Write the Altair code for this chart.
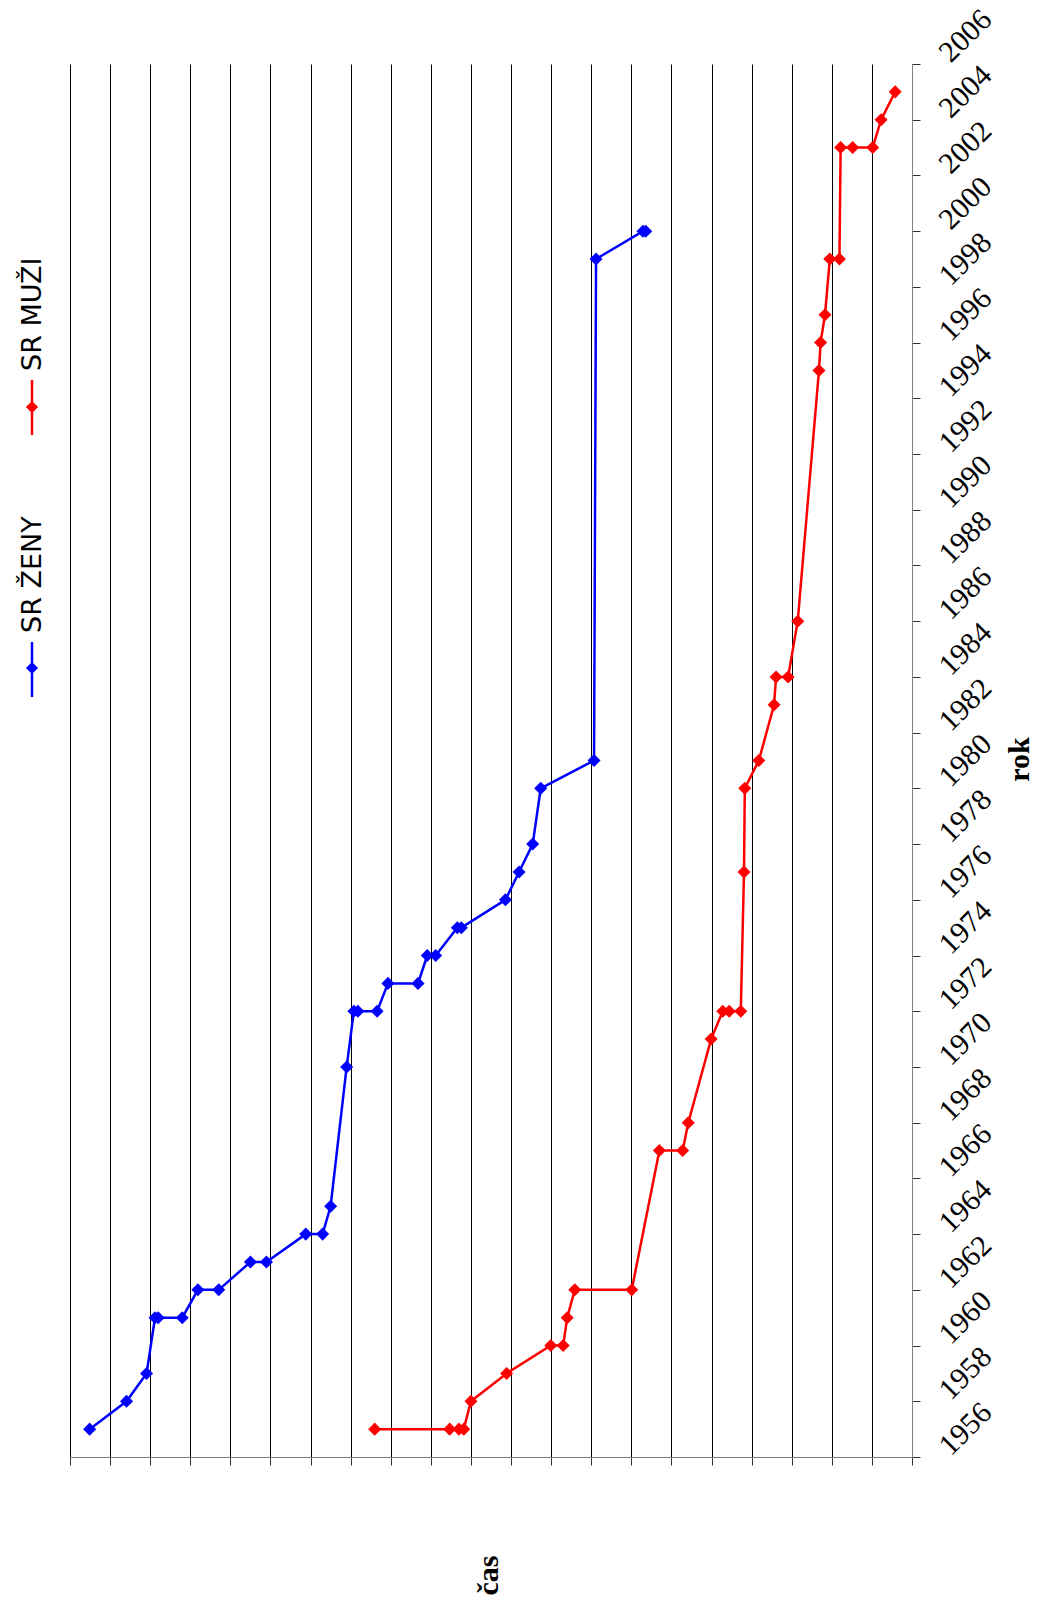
import altair as alt
import pandas as pd

# Record times over the years (value axis in grid units, no tick labels)
zeny_rok = [1957, 1958, 1959, 1961, 1961, 1961, 1962, 1962, 1963, 1963, 1964, 1964,
            1965, 1970, 1972, 1972, 1972, 1973, 1973, 1974, 1974, 1975, 1975, 1976,
            1977, 1978, 1980, 1981, 1999, 2000, 2000]
zeny_cas = [20.51, 19.59, 19.09, 18.88, 18.80, 18.20, 17.81, 17.29, 16.50, 16.10, 15.12, 14.70,
            14.50, 14.10, 13.92, 13.82, 13.34, 13.07, 12.32, 12.09, 11.88, 11.34, 11.24, 10.14,
            9.80, 9.46, 9.26, 7.93, 7.88, 6.71, 6.64]

muzi_rok = [1957, 1957, 1957, 1957, 1958, 1959, 1960, 1960, 1961, 1962, 1962, 1967,
            1967, 1968, 1971, 1972, 1972, 1972, 1977, 1980, 1981, 1983, 1984, 1984,
            1986, 1995, 1996, 1997, 1999, 1999, 2003, 2003, 2003, 2004, 2005]
muzi_cas = [13.40, 11.53, 11.30, 11.18, 11.00, 10.11, 9.01, 8.70, 8.60, 8.41, 6.99, 6.30,
            5.72, 5.58, 5.01, 4.72, 4.56, 4.27, 4.19, 4.17, 3.82, 3.44, 3.39, 3.09,
            2.85, 2.32, 2.28, 2.17, 2.05, 1.81, 1.78, 1.48, 0.98, 0.77, 0.42]

serie_names = ["SR ŽENY", "SR MUŽI"]
serie_colors = ["#0000FF", "#FF0000"]
rok_ticks = list(range(1956, 2007, 2))
cas_grid = list(range(0, 22))

frames = []
for name, roky, casy in [(serie_names[0], zeny_rok, zeny_cas), (serie_names[1], muzi_rok, muzi_cas)]:
    frames.append(pd.DataFrame({"serie": name, "rok": roky, "cas": casy, "i": range(len(roky))}))
df = pd.concat(frames, ignore_index=True)

W, H = 842, 1393
SERIF = "Liberation Serif"

x_enc = alt.X(
    "cas:Q",
    scale=alt.Scale(domain=[0, 21], reverse=True, nice=False, zero=False),
    axis=alt.Axis(
        values=cas_grid, labels=False, grid=True, gridColor="#000000", gridWidth=1,
        ticks=True, tickSize=8, tickColor="#333333", domainColor="#808080",
        title="čas", titleFont=SERIF, titleFontWeight="bold", titleFontSize=30,
        titleAngle=270, titleAlign="center", titleBaseline="middle",
        titleX=418, titleY=118, titleColor="#000000",
    ),
)
y_enc = alt.Y(
    "rok:Q",
    scale=alt.Scale(domain=[1956, 2006], nice=False, zero=False),
    axis=alt.Axis(
        orient="right", values=rok_ticks, format="d", grid=False,
        ticks=True, tickSize=8, tickColor="#333333", domainColor="#808080",
        labelFont=SERIF, labelFontSize=30, labelColor="#000000",
        labelAngle=315, labelAlign="left", labelBaseline="middle",
        labelPadding=24, labelOffset=-7, labelOverlap=False, labelBound=False,
        title="rok", titleFont=SERIF, titleFontWeight="bold", titleFontSize=30,
        titleAngle=270, titleAlign="center", titleBaseline="middle",
        titleX=107, titleY=695, titleColor="#000000",
    ),
)
color_enc = alt.Color("serie:N", scale=alt.Scale(domain=serie_names, range=serie_colors), legend=None)

base = alt.Chart(df)
lines = base.mark_line(strokeWidth=2.5).encode(x=x_enc, y=y_enc, color=color_enc, order="i:Q")
points = base.mark_point(shape="diamond", filled=True, size=170, opacity=1).encode(
    x=x_enc, y=y_enc, color=color_enc
)

# Legend drawn by hand as a rotated column on the left
legend_layers = []
legend_pos = [
    # (text anchor y, line top, line bottom, marker y)
    (569, 578, 633, 604),
    (307, 316, 371, 343),
]
for name, col, (ty, l1, l2, my) in zip(serie_names, serie_colors, legend_pos):
    one = alt.Chart(pd.DataFrame({"serie": [name]}))
    legend_layers.append(
        one.mark_rule(strokeWidth=2.5, color=col).encode(
            x=alt.value(-38), y=alt.value(l1), y2=alt.value(l2)
        )
    )
    legend_layers.append(
        one.mark_point(shape="diamond", filled=True, size=150, opacity=1, color=col).encode(
            x=alt.value(-38), y=alt.value(my)
        )
    )
    legend_layers.append(
        one.mark_text(angle=270, align="left", baseline="middle", font="DejaVu Sans",
                      fontSize=27, color="#000000").encode(
            x=alt.value(-37), y=alt.value(ty), text="serie:N"
        )
    )

chart = alt.layer(lines, points, *legend_layers).properties(
    width=W, height=H,
    autosize=alt.AutoSizeParams(type="none"),
    padding={"left": 70, "top": 64, "right": 1039 - 70 - W, "bottom": 1603 - 64 - H},
    background="white",
).configure_view(stroke=None)

chart.save("out.html", embed_options={"renderer": "svg", "actions": False})
